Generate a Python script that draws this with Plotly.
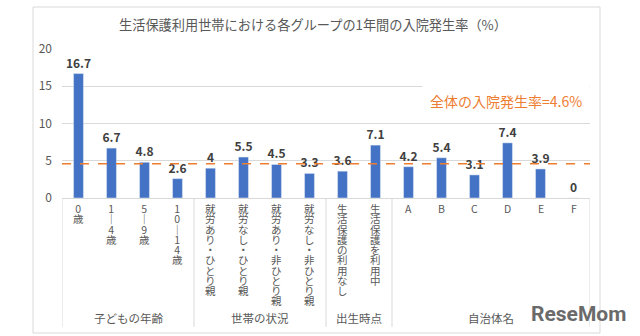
import plotly.graph_objects as go

# ---- data ----
categories = ["0歳", "1ー4歳", "5ー9歳", "10ー14歳",
              "就労あり・ひとり親", "就労なし・ひとり親", "就労あり・非ひとり親", "就労なし・非ひとり親",
              "生活保護の利用なし", "生活保護を利用中",
              "A", "B", "C", "D", "E", "F"]
values = [16.7, 6.7, 4.8, 2.6, 4, 5.5, 4.5, 3.3, 3.6, 7.1, 4.2, 5.4, 3.1, 7.4, 3.9, 0]
group_names = ["子どもの年齢", "世帯の状況", "出生時点", "自治体名"]
group_sizes = [4, 4, 2, 6]
overall_rate = 4.6
overall_label = "全体の入院発生率=4.6%"
y_ticks = [0, 5, 10, 15, 20]
title_text = "生活保護利用世帯における各グループの1年間の入院発生率（%）"

# ---- geometry helpers (pixels) ----
W, H = 640, 336
L, R, T, B = 62, 50, 49, 138
PW, PH = W - L - R, H - T - B
n = len(categories)
FONT = "Noto Sans CJK JP"
GRAY = "#595959"
LINE = "#D9D9D9"


def py2paper(py):
    return (H - B - py) / PH


xs = list(range(n))
fig = go.Figure()
fig.add_trace(go.Bar(
    x=xs, y=values, marker_color="#4472C4", width=0.3,
    text=[str(v) for v in values], texttemplate="<b>%{text}</b>",
    textposition="outside", cliponaxis=False, constraintext="none",
    textfont=dict(size=12, color="#404040", family=FONT),
    hoverinfo="skip",
))

shapes = []
annotations = []

# overall rate dashed line
shapes.append(dict(type="line", xref="x", yref="y", x0=-0.5, x1=n - 0.5,
                   y0=overall_rate, y1=overall_rate, layer="above",
                   line=dict(color="#ED7D31", width=1.5, dash="dash")))
annotations.append(dict(xref="x", yref="y", x=12.94, y=13.0, text=overall_label,
                        showarrow=False, bgcolor="white", borderpad=7,
                        font=dict(size=14, color="#ED7D31", family=FONT)))

# group separators and labels
bounds = [-0.5]
for s in group_sizes:
    bounds.append(bounds[-1] + s)
for b in bounds:
    shapes.append(dict(type="line", xref="x", yref="paper", x0=b, x1=b,
                       y0=0, y1=py2paper(327), line=dict(color=LINE, width=1)))
for i, g in enumerate(group_names):
    annotations.append(dict(xref="x", yref="paper", x=(bounds[i] + bounds[i + 1]) / 2,
                            y=py2paper(318), yanchor="middle", xanchor="center",
                            text=g, showarrow=False,
                            font=dict(size=11.5, color=GRAY, family=FONT)))

# vertical category labels: one line per character, tight line pitch via small base
# font size, glyphs enlarged with an inline span
for i, lab in enumerate(categories):
    chars = ["｜" if ch == "ー" else ch for ch in lab]
    txt = "<br>".join('<span style="font-size:10.5px">%s</span>' % c for c in chars)
    annotations.append(dict(xref="x", yref="y", x=i, y=0, text=txt,
                            showarrow=False, yanchor="top", xanchor="center",
                            align="center", yshift=-2, borderpad=0,
                            font=dict(size=7.9, color=GRAY, family=FONT)))

# outer frame
shapes.append(dict(type="rect", xref="paper", yref="paper",
                   x0=(33 - L) / PW, x1=(600 - L) / PW,
                   y0=py2paper(333), y1=py2paper(7),
                   line=dict(color=LINE, width=1)))

# watermark
annotations.append(dict(xref="paper", yref="paper", x=(578 - L) / PW, y=py2paper(314),
                        xanchor="center", yanchor="middle", text="<b>ReseMom</b>",
                        showarrow=False,
                        font=dict(size=21, color="#6a6a6a", family="Roboto")))

fig.update_layout(
    width=W, height=H, margin=dict(l=L, r=R, t=T, b=B),
    paper_bgcolor="white", plot_bgcolor="white", showlegend=False,
    title=dict(text=title_text, x=313 / W, xanchor="center", y=1 - 25 / H,
               yanchor="middle", yref="container",
               font=dict(size=13.2, color=GRAY, family=FONT)),
    xaxis=dict(range=[-0.5, n - 0.5], showticklabels=False, ticks="",
               showgrid=False, zeroline=False, showline=True,
               linecolor=LINE, linewidth=1, fixedrange=True),
    yaxis=dict(range=[0, 20], tickvals=y_ticks, showgrid=True, gridcolor=LINE,
               zeroline=False, showline=False, ticks="", ticklabelstandoff=9,
               tickfont=dict(size=12, color=GRAY, family=FONT), fixedrange=True),
    shapes=shapes, annotations=annotations,
)

fig.write_html("out.html")
